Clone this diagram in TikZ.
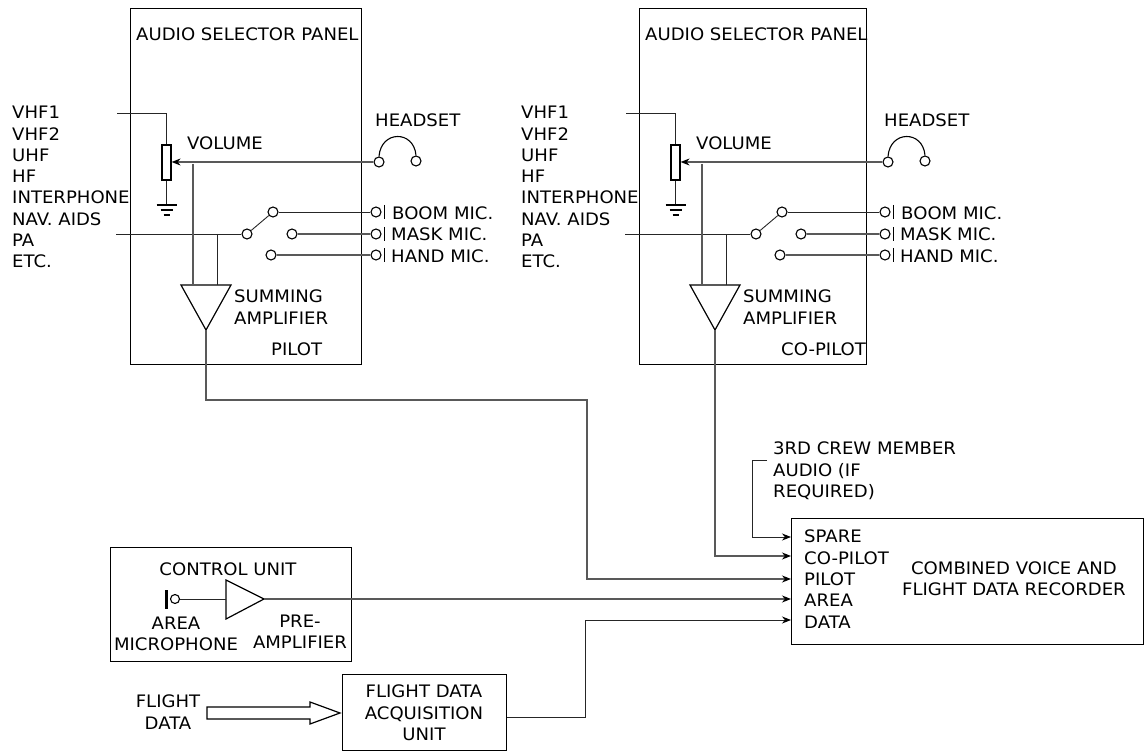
\documentclass[tikz,border=0pt]{standalone}
\usepackage{fontspec}
\setmainfont[FakeStretch=1.05]{DejaVu Sans}
\usetikzlibrary{arrows.meta, positioning, calc}

\begin{document}
\begin{tikzpicture}[
  x=1pt, y=-1pt,
  box/.style={draw, line width=1.35pt, inner sep=0pt, anchor=north west},
  lbl/.style={font=\fontsize{17.2}{21.3}\selectfont, align=left, inner sep=0pt},
  ctr/.style={font=\fontsize{17.2}{21.3}\selectfont, align=center, inner sep=0pt},
  wire/.style={draw=black!65, line width=1.1pt},
  thin wire/.style={draw=black!85, line width=.9pt},
  arr/.style={wire, -{Stealth[length=9pt,width=7pt,color=black]}},
  term/.style={circle, draw, line width=1.1pt, fill=white, minimum size=10pt, inner sep=0pt},
  amp/.style={line width=1.2pt, line join=miter}
]
\useasboundingbox (0,0) rectangle (1144,751);

% the two panels
\foreach \side/\dx/\panelw/\tag/\tagx in {pilot/0/231/PILOT/271, copilot/509/227/CO-PILOT/272} {
\begin{scope}[shift={(\dx,0)}]
  \node[box, minimum width=\panelw pt, minimum height=356pt] (panel\side) at (130,8) {};
  \node[lbl, anchor=west] (title\side) at (136,34) {AUDIO SELECTOR PANEL};
  \node[lbl, anchor=north west] (radios\side) at (12,106) {VHF1\\VHF2\\UHF\\HF\\INTERPHONE\\NAV. AIDS\\PA\\ETC.};
  \node[lbl, anchor=west] (volume\side) at (187,143) {VOLUME};
  \node[lbl, anchor=west] (headset\side) at (375,120) {HEADSET};
  \node[lbl, anchor=west] (boom\side) at (392,213) {BOOM MIC.};
  \node[lbl, anchor=west] (mask\side) at (391,234) {MASK MIC.};
  \node[lbl, anchor=west] (hand\side) at (391,256) {HAND MIC.};
  \node[lbl, anchor=north west] (summing\side) at (234,290) {SUMMING\\AMPLIFIER};

  % volume pot and ground
  \node[draw, line width=1.2pt, minimum width=9pt, minimum height=35pt, inner sep=0pt] (pot\side) at (166.5,162.5) {};
  \coordinate (vin\side) at (117,113);
  \coordinate (gnd\side) at (166.5,205);
  \draw[thin wire] (vin\side) -| (pot\side.north);
  \draw[thin wire] (pot\side.south) -- (gnd\side);
  \draw[line width=1.1pt] ($(gnd\side)+(-10,0)$) -- ++(20,0)
    ($(gnd\side)+(-6,5)$) -- ++(12,0) ($(gnd\side)+(-3,10)$) -- ++(6,0);

  % headset
  \node[term] (earl\side) at (379,162) {};
  \node[term] (earr\side) at (416,161) {};
  \draw[line width=1.1pt] (earl\side.north) .. controls (381,130) and (414,130) .. (earr\side.north);
  \draw[arr] (earl\side.west) -- (pot\side.east |- earl\side.west);

  % mic switch
  \node[term] (sw\side) at (247,234) {};
  \node[term] (swa\side) at (273,212) {};
  \node[term] (swb\side) at (292,234) {};
  \node[term] (swc\side) at (271,255) {};
  \node[term] (boomt\side) at (376,212) {};
  \node[term] (maskt\side) at (376,234) {};
  \node[term] (handt\side) at (376,255) {};
  \coordinate (pa\side) at (116,234);
  \draw[thin wire] (pa\side) -- (sw\side);
  \draw[thin wire] (sw\side) -- (swa\side);
  \draw[thin wire] (swa\side) -- (boomt\side);
  \draw[wire] (swb\side) -- (maskt\side);
  \draw[wire] (swc\side) -- (handt\side);
  \foreach \m in {boomt,maskt,handt} {
    \draw[line width=1.1pt] ($(\m\side.east)+(3,-7)$) -- ++(0,14);
  }

  % summing amplifier
  \coordinate (ampa\side) at (181,285);
  \coordinate (ampb\side) at (231,285);
  \coordinate (amp\side) at (206,330);
  \draw[amp] (ampa\side) -- (ampb\side) -- (amp\side) -- cycle;
  \draw[wire] (193,164) -- (193,285);
  \draw[thin wire] (217,234) -- (217,285);
  \node[lbl, anchor=west] (tag\side) at (\tagx,349) {\tag};
\end{scope}
}

% recorder
\node[box, minimum width=352pt, minimum height=126pt] (fdr) at (791,518) {};
\node[lbl, anchor=north west] (inputs) at (804,530) {SPARE\\CO-PILOT\\PILOT\\AREA\\DATA};
\node[ctr] (fdrname) at (1014,579) {COMBINED VOICE AND\\FLIGHT DATA RECORDER};
\node[lbl, anchor=north west] (crew) at (773,442) {3RD CREW MEMBER\\AUDIO (IF\\REQUIRED)};

% control unit
\node[box, minimum width=241pt, minimum height=114pt] (ctrl) at (110,547) {};
\node[ctr] (ctrlname) at (228,569) {CONTROL UNIT};
\node[ctr] (areamic) at (176,634) {AREA\\MICROPHONE};
\node[ctr] (preamp) at (300,632) {PRE-\\AMPLIFIER};
\node[term, minimum size=9pt] (mic) at (175,599) {};
\draw[line width=3pt] ($(mic.west)+(-3,-9)$) -- ++(0,19);
\coordinate (preina) at (226,580);
\coordinate (preinb) at (226,619);
\coordinate (pre) at (264,599);
\draw[amp] (preina) -- (pre) -- (preinb) -- cycle;
\draw[thin wire] (mic.east) -- (preina |- mic.east);

% acquisition unit
\node[box, minimum width=164pt, minimum height=76pt] (fdau) at (342,674) {};
\node[ctr] (fdauname) at (424,713) {FLIGHT DATA\\ACQUISITION\\UNIT};
\node[ctr] (flight) at (168,712) {FLIGHT\\DATA};
\coordinate (fatstart) at (207,713);
\draw[line width=1.2pt, fill=white] (fatstart) ++(0,-6) -- ++(103,0) -- ++(0,-5) -- (340,713)
  -- (310,724) -- ++(0,-5) -- (207,719) -- cycle;

% wires to the recorder
\coordinate (pilotin) at (fdr.west |- 0,579);
\coordinate (copilotin) at (fdr.west |- 0,556);
\coordinate (sparein) at (fdr.west |- 0,537);
\coordinate (areain) at (fdr.west |- 0,599);
\coordinate (datain) at (fdr.west |- 0,620);
\coordinate (crewout) at (767,460);
\draw[arr] (amppilot) |- (587,400) |- (pilotin);
\draw[arr] (ampcopilot) |- (copilotin);
\draw[arr, thin wire] (crewout) -- (752,460) |- (sparein);
\draw[arr] (pre) -- (areain);
\draw[arr, thin wire] (fdau.east |- 0,717) -- (585,717) |- (datain);
\end{tikzpicture}
\end{document}
